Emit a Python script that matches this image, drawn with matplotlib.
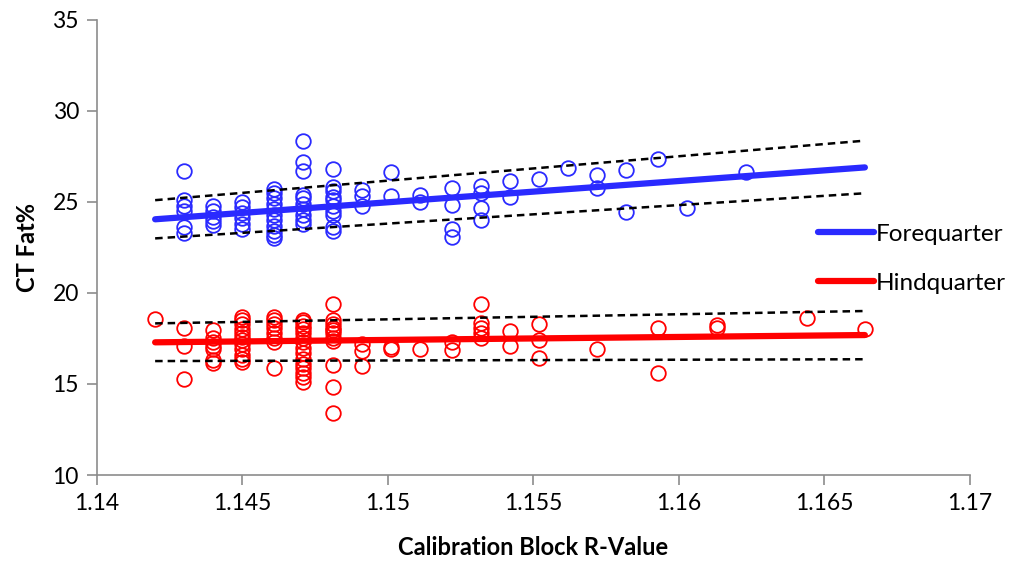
import numpy as np
import matplotlib
matplotlib.use('Agg')
import matplotlib.pyplot as plt

plt.rcParams['font.family'] = ['Lato', 'DejaVu Sans']

# Forequarter: R-value columns and CT fat% values in each column
fore_cols = [1.1430, 1.1440, 1.1450, 1.1461, 1.1471, 1.1481, 1.1491, 1.1501, 1.1511, 1.1522,
             1.1532, 1.1542, 1.1552, 1.1562, 1.1572, 1.1582, 1.1593, 1.1603, 1.1623]
fore_vals = [
    [26.7, 25.1, 24.8, 24.5, 23.6, 23.3],
    [24.8, 24.5, 24.2, 23.95, 23.75],
    [25.0, 24.7, 24.4, 24.1, 23.8, 23.5],
    [25.7, 25.5, 25.2, 24.9, 24.6, 24.3, 24.0, 23.7, 23.4, 23.2, 23.0],
    [28.35, 27.2, 26.7, 25.4, 25.2, 24.9, 24.6, 24.3, 24.0, 23.8],
    [26.8, 25.8, 25.6, 25.3, 25.1, 24.8, 24.5, 24.3, 23.6, 23.4],
    [25.65, 25.35, 24.8],
    [26.65, 25.35],
    [25.4, 25.0],
    [25.75, 24.85, 23.5, 23.05],
    [25.9, 25.5, 24.65, 24.0],
    [26.15, 25.3],
    [26.25],
    [26.85],
    [26.5, 25.75],
    [26.75, 24.45],
    [27.35],
    [24.65],
    [26.65],
]

# Hindquarter
hind_cols = [1.1420, 1.1430, 1.1440, 1.1450, 1.1461, 1.1471, 1.1481, 1.1491, 1.1501, 1.1511,
             1.1522, 1.1532, 1.1542, 1.1552, 1.1572, 1.1593, 1.1613, 1.1644, 1.1664]
hind_vals = [
    [18.55],
    [18.1, 17.1, 15.3],
    [17.95, 17.55, 17.3, 17.1, 16.95, 16.3, 16.15],
    [18.7, 18.5, 18.3, 18.0, 17.8, 17.6, 17.4, 17.2, 16.9, 16.6, 16.4, 16.2],
    [18.7, 18.5, 18.3, 18.05, 17.8, 17.5, 17.3, 15.9],
    [18.5, 18.4, 18.2, 18.0, 17.8, 17.5, 17.3, 17.0, 16.7, 16.4, 16.1, 15.9, 15.6, 15.4, 15.1],
    [19.4, 18.5, 18.3, 18.1, 17.95, 17.8, 17.5, 17.35, 16.05, 14.85, 13.4],
    [17.2, 16.8, 16.0],
    [17.05, 16.95],
    [16.9],
    [17.3, 16.85],
    [19.4, 18.35, 18.05, 17.8, 17.5],
    [17.9, 17.1],
    [18.3, 17.4, 16.45],
    [16.9],
    [18.05, 15.6],
    [18.25, 18.05],
    [18.6],
    [18.0],
]

# regression lines and bands (endpoints)
line_x = [1.1420, 1.1664]
fore_fit = [24.05, 26.9]
fore_hi = [25.1, 28.37]
fore_lo = [23.0, 25.48]
hind_fit = [17.29, 17.69]
hind_hi = [18.33, 19.01]
hind_lo = [16.26, 16.36]

blue = '#2a2aff'
red = '#ff0000'
grey = '#8c8c8c'

fig = plt.figure(figsize=(10.1, 5.63), dpi=100)
ax = fig.add_axes([0.096, 0.1563, 0.864, 0.8082])

fx = [c for c, v in zip(fore_cols, fore_vals) for _ in v]
fy = [y for v in fore_vals for y in v]
hx = [c for c, v in zip(hind_cols, hind_vals) for _ in v]
hy = [y for v in hind_vals for y in v]

ax.plot(fx, fy, 'o', mfc='none', mec=blue, ms=10.5, mew=1.3, zorder=3)
ax.plot(hx, hy, 'o', mfc='none', mec=red, ms=10.5, mew=1.3, zorder=3)

for band in (fore_hi, fore_lo, hind_hi, hind_lo):
    ax.plot(line_x, band, '--', color='black', lw=1.8, dashes=(3, 2), zorder=4)

l1, = ax.plot(line_x, fore_fit, color=blue, lw=4.5, solid_capstyle='round', zorder=5)
l2, = ax.plot(line_x, hind_fit, color=red, lw=4.5, solid_capstyle='round', zorder=5)

ax.set_xlim(1.14, 1.17)
ax.set_ylim(10, 35)
ax.set_xticks(np.arange(1.14, 1.1701, 0.005))
ax.set_xticklabels(['1.14', '1.145', '1.15', '1.155', '1.16', '1.165', '1.17'])
ax.set_yticks(range(10, 36, 5))

for s in ['top', 'right']:
    ax.spines[s].set_visible(False)
for s in ['left', 'bottom']:
    ax.spines[s].set_color(grey)
    ax.spines[s].set_linewidth(1.2)
ax.tick_params(direction='out', length=7, width=1.2, color=grey, labelsize=16.5, pad=6)

ax.set_xlabel('Calibration Block R-Value', fontsize=17, fontweight='bold', labelpad=16)
ax.set_ylabel('CT Fat%', fontsize=17, fontweight='bold', labelpad=10)

fig.legend([l1, l2], ['Forequarter', 'Hindquarter'], loc='upper left',
           bbox_to_anchor=(0.788, 0.641), frameon=False, fontsize=17.5,
           handlelength=2.3, handletextpad=0.1, labelspacing=1.15)

fig.savefig('out.png', dpi=100)
